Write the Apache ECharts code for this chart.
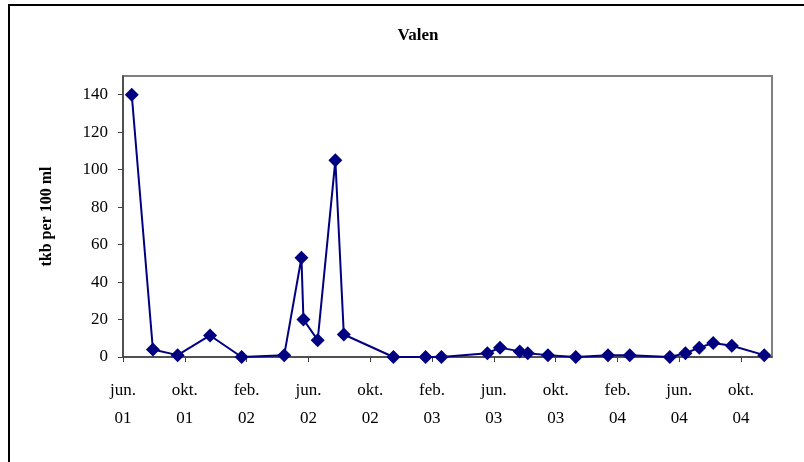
<!DOCTYPE html>
<html>
<head>
<meta charset="utf-8">
<script src="https://cdn.jsdelivr.net/npm/echarts@6/dist/echarts.min.js"></script>
<style>
html,body{margin:0;padding:0;background:#fff;}
#chart{width:804px;height:462px;}
</style>
</head>
<body>
<div id="chart"></div>
<script>
// Sampling dates and values (tkb per 100 ml)
const sampleDates = [
  "2001-06-18","2001-07-30","2001-09-17","2001-11-20","2002-01-22",
  "2002-04-14","2002-05-18","2002-05-22","2002-06-19","2002-07-24",
  "2002-08-10","2002-11-16","2003-01-19","2003-02-18","2003-05-19",
  "2003-06-13","2003-07-22","2003-08-07","2003-09-16","2003-11-10",
  "2004-01-13","2004-02-24","2004-05-13","2004-06-13","2004-07-10",
  "2004-08-07","2004-09-13","2004-11-16"
];
const sampleValues = [
  140, 4, 1, 11.5, 0,
  1, 53, 20, 9, 105,
  12, 0, 0, 0, 2,
  5, 3, 2, 1, 0,
  1, 1, 0, 2, 5,
  7.5, 6, 1
];
const xTickLabels = ["jun.\n01","okt.\n01","feb.\n02","jun.\n02","okt.\n02","feb.\n03","jun.\n03","okt.\n03","feb.\n04","jun.\n04","okt.\n04"];
const yTickValues = [0,20,40,60,80,100,120,140];

// Axis starts 1 June 2001; x is measured in months from that date
function monthIndex(s){
  const [y,m,d] = s.split("-").map(Number);
  const dim = new Date(Date.UTC(y, m, 0)).getUTCDate();
  return (y-2001)*12 + (m-6) + (d-1)/dim;
}
const seriesData = sampleDates.map((d,i)=>[monthIndex(d), sampleValues[i]]);
const xTickValues = xTickLabels.map((_,i)=>i*4);

const chart = echarts.init(document.getElementById('chart'), null, {renderer:'canvas'});
const font = '"Liberation Serif","Times New Roman",serif';
chart.setOption({
  animation:false,
  backgroundColor:'#fff',
  title:{
    text:'Valen', left:413, top:22, textAlign:'center',
    textStyle:{fontFamily:font, fontWeight:'bold', fontSize:17, color:'#000'}
  },
  graphic:[{
    type:'rect', shape:{x:9, y:5, width:900, height:600},
    style:{fill:'none', stroke:'#000', lineWidth:2}, silent:true, z:-1
  }],
  grid:{left:123, top:76, right:32, bottom:105, show:true, borderColor:'#808080', borderWidth:2, backgroundColor:'#fff'},
  xAxis:{
    type:'value', min:0, max:42, interval:4,
    axisLine:{show:true, onZero:false, lineStyle:{color:'#404040', width:1.5}},
    axisTick:{show:true, length:5, customValues:xTickValues, lineStyle:{color:'#404040'}},
    splitLine:{show:false},
    axisLabel:{
      customValues:xTickValues, margin:20, lineHeight:28,
      fontFamily:font, fontSize:17, color:'#000',
      formatter:v=>xTickLabels[Math.round(v/4)] || ''
    }
  },
  yAxis:{
    type:'value', min:0, max:150, interval:20,
    name:'tkb per 100 ml', nameLocation:'middle', nameGap:68, nameRotate:90,
    nameTextStyle:{fontFamily:font, fontWeight:'bold', fontSize:16, color:'#000'},
    axisLine:{show:true, lineStyle:{color:'#404040', width:1.5}},
    axisTick:{show:true, length:5, customValues:yTickValues, lineStyle:{color:'#404040'}},
    splitLine:{show:false},
    axisLabel:{customValues:yTickValues, margin:15, fontFamily:font, fontSize:17, color:'#000'}
  },
  series:[{
    type:'line', data:seriesData,
    symbol:'diamond', symbolSize:14,
    lineStyle:{color:'#000080', width:2},
    itemStyle:{color:'#000080'},
    z:5
  }]
});
</script>
</body>
</html>
